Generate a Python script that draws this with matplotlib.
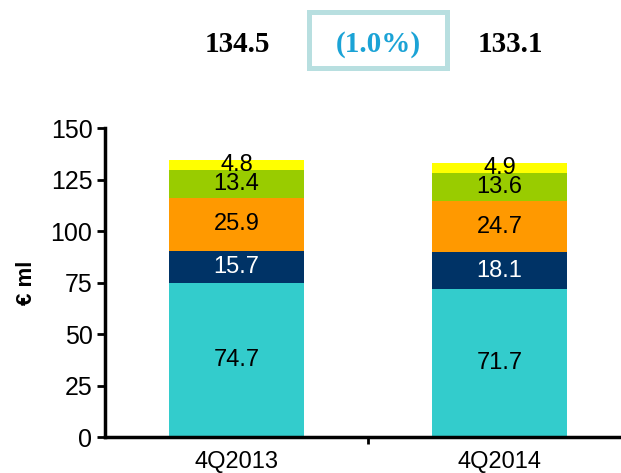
import matplotlib
matplotlib.use('Agg')
import matplotlib.pyplot as plt
from matplotlib.patches import Rectangle
import numpy as np

# data
periods = ['4Q2013', '4Q2014']
segments = [
    [74.7, 71.7],
    [15.7, 18.1],
    [25.9, 24.7],
    [13.4, 13.6],
    [4.8, 4.9],
]
seg_colors = ['#33CCCC', '#003366', '#FF9900', '#99CC00', '#FFFF00']
label_colors = ['black', 'white', 'black', 'black', 'black']
totals = ['134.5', '133.1']
change = '(1.0%)'

plt.rcParams['font.family'] = ['Liberation Sans', 'DejaVu Sans']

fig = plt.figure(figsize=(6.21, 4.73), dpi=100)
ax = fig.add_axes([0.169, 0.076, 0.847, 0.653])

x = np.arange(len(periods))
bottom = np.zeros(len(periods))
for vals, col, lcol in zip(segments, seg_colors, label_colors):
    vals = np.array(vals)
    ax.bar(x, vals, width=0.51, bottom=bottom, color=col)
    for xi, b, v in zip(x, bottom, vals):
        ax.text(xi, b + v / 2, f'{v:.1f}', ha='center', va='center',
                color=lcol, fontsize=17)
    bottom += vals

ax.set_xlim(-0.5, 1.5)
ax.set_ylim(0, 150)
ax.set_yticks(np.arange(0, 151, 25))
ax.set_xticks(x)
ax.set_xticklabels(periods, fontsize=17)
ax.set_xticks([0.5], minor=True)
ax.tick_params(axis='x', which='major', length=0, pad=10)
ax.tick_params(axis='x', which='minor', length=5, width=2, direction='out')
ax.tick_params(axis='y', length=6, width=2, direction='out', labelsize=18, pad=3)
for side in ['top', 'right']:
    ax.spines[side].set_visible(False)
for side in ['left', 'bottom']:
    ax.spines[side].set_linewidth(2.5)
ax.set_ylabel('€ ml', fontsize=16, fontweight='bold', labelpad=10)

# totals and change box above the chart
ty = 1 - 45 / 473
fig.text(237 / 621, ty, totals[0], ha='center', va='center',
         fontsize=21, fontweight='bold', family='Liberation Serif')
fig.text(510 / 621, ty, totals[1], ha='center', va='center',
         fontsize=21, fontweight='bold', family='Liberation Serif')
fig.text(378 / 621, ty, change, ha='center', va='center',
         fontsize=21, fontweight='bold', family='Liberation Serif', color='#1BA3D6')
fig.patches.append(Rectangle((309 / 621, 1 - 68 / 473), 138 / 621, 56 / 473,
                             transform=fig.transFigure, fill=False,
                             ec='#B8DFE0', lw=3.6))

fig.savefig('out.png', dpi=100)
